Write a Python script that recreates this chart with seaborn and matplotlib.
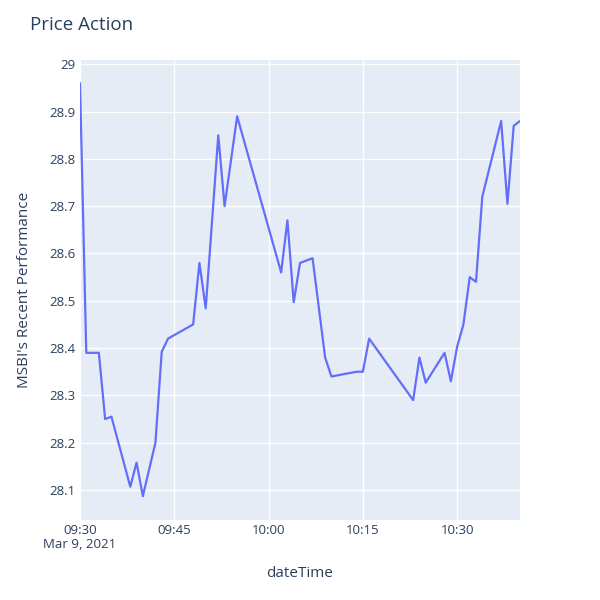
import pandas as pd
import numpy as np
import matplotlib
matplotlib.use("Agg")
import matplotlib.pyplot as plt
import matplotlib.dates as mdates
import seaborn as sns

times = ["09:30", "09:31", "09:33", "09:34", "09:35", "09:38", "09:39", "09:40",
         "09:42", "09:43", "09:44", "09:48", "09:49", "09:50", "09:52", "09:53",
         "09:55", "10:02", "10:03", "10:04", "10:05", "10:07", "10:09", "10:10",
         "10:14", "10:15", "10:16", "10:23", "10:24", "10:25", "10:28", "10:29",
         "10:30", "10:31", "10:32", "10:33", "10:34", "10:37", "10:38", "10:39",
         "10:40"]
prices = [28.96, 28.39, 28.39, 28.25, 28.255, 28.107, 28.158, 28.087,
          28.20, 28.392, 28.42, 28.45, 28.58, 28.484, 28.85, 28.70,
          28.89, 28.56, 28.67, 28.497, 28.58, 28.59, 28.38, 28.34,
          28.35, 28.35, 28.42, 28.29, 28.38, 28.327, 28.39, 28.33,
          28.403, 28.45, 28.55, 28.54, 28.72, 28.88, 28.705, 28.87,
          28.88]
y_ticks = [28.1, 28.2, 28.3, 28.4, 28.5, 28.6, 28.7, 28.8, 28.9, 29.0]
y_tick_labels = ["28.1", "28.2", "28.3", "28.4", "28.5", "28.6", "28.7", "28.8", "28.9", "29"]
x_tick_times = ["09:30", "09:45", "10:00", "10:15", "10:30"]
x_tick_labels = ["09:30\nMar 9, 2021", "09:45", "10:00", "10:15", "10:30"]

df = pd.DataFrame({
    "dateTime": pd.to_datetime(["2021-03-09 " + t for t in times]),
    "price": prices,
})

sns.set_theme(style="darkgrid")
plt.rcParams["font.family"] = ["Open Sans", "DejaVu Sans"]
text_color = "#2a3f5f"

fig = plt.figure(figsize=(6, 6), dpi=100)
ax = fig.add_axes([80 / 600, 80 / 600, 440 / 600, 460 / 600])
ax.set_facecolor("#E5ECF6")

sns.lineplot(data=df, x="dateTime", y="price", ax=ax, color="#636EFA", linewidth=1.6)

ax.set_xlim(pd.Timestamp("2021-03-09 09:30"), pd.Timestamp("2021-03-09 10:40"))
ax.set_ylim(28.0366, 29.009)

ax.set_xticks(pd.to_datetime(["2021-03-09 " + t for t in x_tick_times]))
ax.set_xticklabels(x_tick_labels)
ax.set_yticks(y_ticks)
ax.set_yticklabels(y_tick_labels)

ax.grid(True, color="white", linewidth=1)
for s in ax.spines.values():
    s.set_visible(False)
ax.tick_params(axis="both", length=0, labelsize=9.5, colors=text_color)
ax.tick_params(axis="x", pad=3)
ax.tick_params(axis="y", pad=3)
for lbl in ax.get_xticklabels():
    lbl.set_linespacing(1.1)

ax.set_xlabel("dateTime", fontsize=11, color=text_color, labelpad=11)
ax.set_ylabel("MSBI's Recent Performance", fontsize=11, color=text_color, labelpad=13)

fig.text(30 / 600, 1 - 25 / 600, "Price Action", fontsize=13.5, color=text_color,
         ha="left", va="center")

fig.savefig("out.png", dpi=100, facecolor="white")
